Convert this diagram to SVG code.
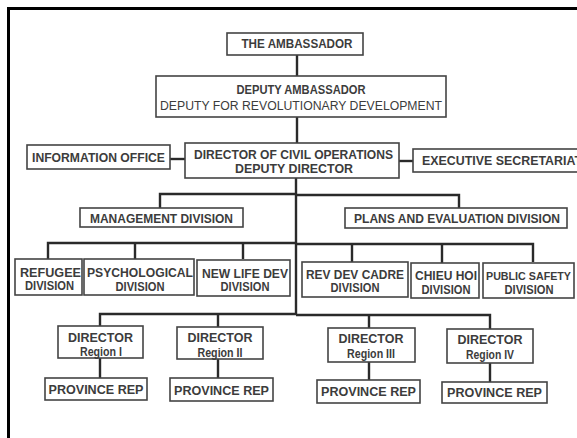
<svg xmlns="http://www.w3.org/2000/svg" width="577" height="438" viewBox="0 0 577 438">
  <style>
    .box { fill: #ffffff; stroke: #444444; stroke-width: 1.6; }
    .t { font-family: "Liberation Sans", Arial, sans-serif; font-weight: bold; font-size: 12px; fill: #3c3c3c; text-anchor: middle; }
    .tr { font-weight: normal; }
    .link { fill: none; stroke: #2a2a2a; stroke-width: 2.4; }
    .frame { fill: none; stroke: #000000; stroke-width: 3; }
  </style>
  <rect x="0" y="0" width="577" height="438" fill="#ffffff"/>
  <path class="frame" d="M8.5 438 V8.5 H577"/>

  <!-- connectors -->
  <g id="connectors">
    <path class="link" d="M297 55 V76"/>
    <path class="link" d="M297 117 V143"/>
    <path class="link" d="M170 159 H185"/>
    <path class="link" d="M399 161 H413"/>
    <path class="link" d="M296 178 V315"/>
    <path class="link" d="M160 208 V194 H296 M296 195 H459 V208"/>
    <path class="link" d="M48 259 V243 H296 M296 244 H533 V262"/>
    <path class="link" d="M135 243 V259 M243 243 V259 M352 244 V262 M442 244 V263"/>
    <path class="link" d="M100 326 V314 H296 M296 315 H490 V329"/>
    <path class="link" d="M218 314 V327 M369 315 V328"/>
    <path class="link" d="M100 358 V378 M218 359 V378 M369 362 V380 M490 363 V382"/>
  </g>

  <g id="ambassador">
    <rect class="box" x="227" y="33" width="136" height="22"/>
    <text class="t" x="297" y="48" textLength="111" lengthAdjust="spacingAndGlyphs">THE AMBASSADOR</text>
  </g>

  <g id="deputy-ambassador">
    <rect class="box" x="156" y="76" width="290" height="41"/>
    <text class="t" x="301" y="94" textLength="129" lengthAdjust="spacingAndGlyphs">DEPUTY AMBASSADOR</text>
    <text class="t tr" x="301" y="110" textLength="282" lengthAdjust="spacingAndGlyphs">DEPUTY FOR REVOLUTIONARY DEVELOPMENT</text>
  </g>

  <g id="information-office">
    <rect class="box" x="27" y="145" width="143" height="24"/>
    <text class="t" x="98.5" y="162" textLength="133" lengthAdjust="spacingAndGlyphs">INFORMATION OFFICE</text>
  </g>

  <g id="director-civil-operations">
    <rect class="box" x="185" y="143" width="214" height="35"/>
    <text class="t" x="293.5" y="159" textLength="199" lengthAdjust="spacingAndGlyphs">DIRECTOR OF CIVIL OPERATIONS</text>
    <text class="t" x="294" y="172.5" textLength="118" lengthAdjust="spacingAndGlyphs">DEPUTY DIRECTOR</text>
  </g>

  <g id="executive-secretariat">
    <rect class="box" x="413" y="149" width="180" height="23"/>
    <text class="t" x="422" y="164.5" style="text-anchor:start" textLength="160" lengthAdjust="spacingAndGlyphs">EXECUTIVE SECRETARIAT</text>
  </g>

  <g id="management-division">
    <rect class="box" x="80" y="208" width="163" height="19"/>
    <text class="t" x="161.5" y="222.5" textLength="143" lengthAdjust="spacingAndGlyphs">MANAGEMENT DIVISION</text>
  </g>

  <g id="plans-evaluation-division">
    <rect class="box" x="345" y="208" width="222" height="20"/>
    <text class="t" x="457" y="223" textLength="206" lengthAdjust="spacingAndGlyphs">PLANS AND EVALUATION DIVISION</text>
  </g>

  <g id="refugee-division">
    <rect class="box" x="15" y="259" width="67" height="36"/>
    <text class="t" x="50.5" y="276.5" textLength="61" lengthAdjust="spacingAndGlyphs">REFUGEE</text>
    <text class="t" x="49.5" y="290" textLength="49" lengthAdjust="spacingAndGlyphs">DIVISION</text>
  </g>

  <g id="psychological-division">
    <rect class="box" x="84" y="259" width="110" height="36"/>
    <text class="t" x="140" y="277" textLength="106" lengthAdjust="spacingAndGlyphs">PSYCHOLOGICAL</text>
    <text class="t" x="140" y="290.5" textLength="49" lengthAdjust="spacingAndGlyphs">DIVISION</text>
  </g>

  <g id="new-life-dev-division">
    <rect class="box" x="197" y="260" width="93" height="36"/>
    <text class="t" x="245" y="277.5" textLength="86" lengthAdjust="spacingAndGlyphs">NEW LIFE DEV</text>
    <text class="t" x="245" y="291" textLength="49" lengthAdjust="spacingAndGlyphs">DIVISION</text>
  </g>

  <g id="rev-dev-cadre-division">
    <rect class="box" x="302" y="262" width="106" height="35"/>
    <text class="t" x="355" y="278.5" textLength="98" lengthAdjust="spacingAndGlyphs">REV DEV CADRE</text>
    <text class="t" x="355" y="292" textLength="49" lengthAdjust="spacingAndGlyphs">DIVISION</text>
  </g>

  <g id="chieu-hoi-division">
    <rect class="box" x="411" y="263" width="68" height="35"/>
    <text class="t" x="446" y="280" textLength="62" lengthAdjust="spacingAndGlyphs">CHIEU HOI</text>
    <text class="t" x="446" y="293.5" textLength="49" lengthAdjust="spacingAndGlyphs">DIVISION</text>
  </g>

  <g id="public-safety-division">
    <rect class="box" x="483" y="263" width="91" height="35"/>
    <text class="t" x="528.5" y="280" style="font-size:11px" textLength="85" lengthAdjust="spacingAndGlyphs">PUBLIC SAFETY</text>
    <text class="t" x="529" y="293.5" textLength="49" lengthAdjust="spacingAndGlyphs">DIVISION</text>
  </g>

  <g id="director-region-1">
    <rect class="box" x="58" y="326" width="85" height="32"/>
    <text class="t" x="100.5" y="341.5" textLength="65" lengthAdjust="spacingAndGlyphs">DIRECTOR</text>
    <text class="t" x="101" y="356" textLength="42" lengthAdjust="spacingAndGlyphs">Region I</text>
  </g>

  <g id="director-region-2">
    <rect class="box" x="177" y="327" width="86" height="32"/>
    <text class="t" x="220" y="342" textLength="65" lengthAdjust="spacingAndGlyphs">DIRECTOR</text>
    <text class="t" x="220" y="356.5" textLength="45" lengthAdjust="spacingAndGlyphs">Region II</text>
  </g>

  <g id="director-region-3">
    <rect class="box" x="328" y="328" width="87" height="34"/>
    <text class="t" x="371" y="343" textLength="65" lengthAdjust="spacingAndGlyphs">DIRECTOR</text>
    <text class="t" x="371" y="357.5" textLength="48" lengthAdjust="spacingAndGlyphs">Region III</text>
  </g>

  <g id="director-region-4">
    <rect class="box" x="447" y="329" width="86" height="34"/>
    <text class="t" x="490" y="344" textLength="65" lengthAdjust="spacingAndGlyphs">DIRECTOR</text>
    <text class="t" x="490" y="358.5" textLength="48" lengthAdjust="spacingAndGlyphs">Region IV</text>
  </g>

  <g id="province-rep-1">
    <rect class="box" x="45" y="378" width="102" height="22"/>
    <text class="t" x="96" y="394" textLength="95" lengthAdjust="spacingAndGlyphs">PROVINCE REP</text>
  </g>

  <g id="province-rep-2">
    <rect class="box" x="170" y="378" width="103" height="23"/>
    <text class="t" x="221.5" y="394.5" textLength="95" lengthAdjust="spacingAndGlyphs">PROVINCE REP</text>
  </g>

  <g id="province-rep-3">
    <rect class="box" x="317" y="380" width="103" height="23"/>
    <text class="t" x="368.5" y="396" textLength="95" lengthAdjust="spacingAndGlyphs">PROVINCE REP</text>
  </g>

  <g id="province-rep-4">
    <rect class="box" x="442" y="382" width="105" height="21"/>
    <text class="t" x="494.5" y="397" textLength="95" lengthAdjust="spacingAndGlyphs">PROVINCE REP</text>
  </g>
</svg>
